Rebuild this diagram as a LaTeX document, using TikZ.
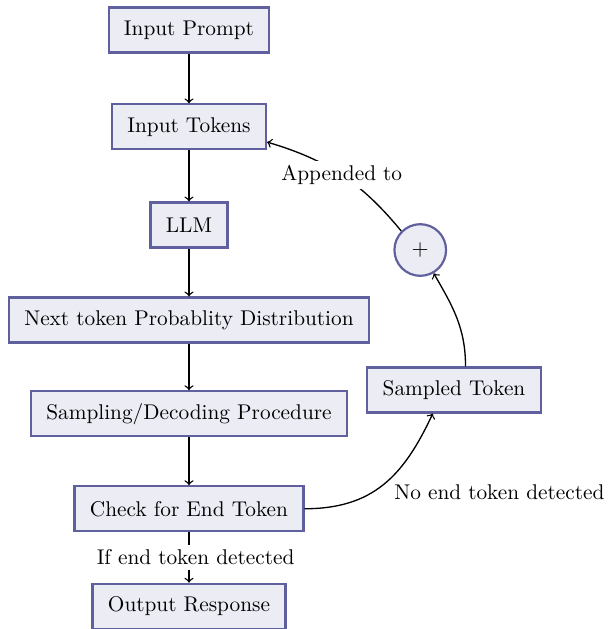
\documentclass[tikz,border=0pt]{standalone}
\usetikzlibrary{positioning}
\definecolor{boxfill}{RGB}{236,236,245}
\definecolor{boxdraw}{RGB}{96,96,158}
\begin{document}
\begin{tikzpicture}[
    font=\fontsize{9.7}{11.6}\selectfont,
    block/.style={rectangle, draw=boxdraw, fill=boxfill, line width=1pt, inner xsep=7pt, minimum height=20.5pt, text centered},
    sumnode/.style={circle, draw=boxdraw, fill=boxfill, line width=1pt, minimum size=23.5pt, inner sep=0pt},
    lbl/.style={fill=white, inner sep=2pt},
    arrow/.style={->, semithick}
]
\useasboundingbox (-3.024,0.48) rectangle (6.704,-9.584);

\node[block] (prompt) at (0, 0) {Input Prompt};
\node[block] (tokens) at (0, -1.55) {Input Tokens};
\node[block] (llm) at (0, -3.12) {LLM};
\node[block] (dist) at (0, -4.64) {Next token Probablity Distribution};
\node[block] (decode) at (0, -6.14) {Sampling/Decoding Procedure};
\node[block] (check) at (0, -7.66) {Check for End Token};
\node[block] (output) at (0, -9.22) {Output Response};
\node[sumnode] (plus) at (3.70, -3.52) {$+$};
\node[block] (sampled) at (4.24, -5.76) {Sampled Token};

\draw[arrow] (prompt) -- (tokens);
\draw[arrow] (tokens) -- (llm);
\draw[arrow] (llm) -- (dist);
\draw[arrow] (dist) -- (decode);
\draw[arrow] (decode) -- (check);
\draw[arrow] (check) -- node[lbl, xshift=3pt] {If end token detected} (output);
\draw[arrow] (check) to[out=0, in=-115, looseness=1.1] node[lbl, pos=0.55, anchor=north west] {No end token detected} (sampled.-132);
\draw[arrow] (sampled.64) to[out=90, in=-60] (plus);
\draw[arrow] (plus) to[bend right=17] node[lbl] {Appended to} (tokens);

\end{tikzpicture}
\end{document}
